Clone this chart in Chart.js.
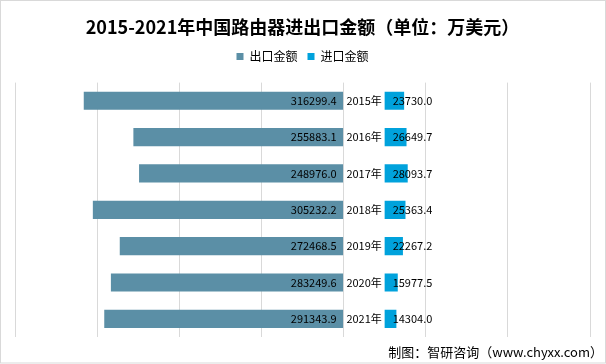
<!DOCTYPE html>
<html>
<head>
<meta charset="utf-8">
<script src="https://cdn.jsdelivr.net/npm/chart.js@4"></script>
<style>
  html, body { margin: 0; padding: 0; background: #fff; }
  #wrap { width: 606px; height: 364px; position: relative; }
</style>
</head>
<body>
<div id="wrap"><canvas id="tradeChart"></canvas></div>
<script>
const years = ['2015年', '2016年', '2017年', '2018年', '2019年', '2020年', '2021年'];
const exportData = [316299.4, 255883.1, 248976.0, 305232.2, 272468.5, 283249.6, 291343.9]; // 出口金额
const importData = [23730.0, 26649.7, 28093.7, 25363.4, 22267.2, 15977.5, 14304.0]; // 进口金额

const GAP = 50000; // room for the year labels between the two sides
const FONT = "'Noto Sans CJK SC', 'Noto Sans', sans-serif";

// push the plot area down a bit below the legend
const legendSpace = {
    id: 'legendSpace',
    beforeInit(chart) {
        const origFit = chart.legend.fit;
        chart.legend.fit = function () {
            origFit.call(this);
            this.height += 10;
        };
    }
};

const labelPlugin = {
    id: 'labels',
    afterDatasetsDraw(chart) {
        const ctx = chart.ctx;
        const x = chart.scales.x;
        const zero = x.getPixelForValue(0);
        const gapPx = x.getPixelForValue(GAP);
        const bars = chart.getDatasetMeta(0).data;
        ctx.save();
        ctx.font = '11px ' + FONT;
        ctx.fillStyle = '#000';
        ctx.textBaseline = 'middle';
        bars.forEach((bar, i) => {
            const y = bar.y;
            ctx.textAlign = 'right';
            ctx.fillText(exportData[i].toFixed(1), zero - 7, y);
            ctx.textAlign = 'center';
            ctx.fillText(years[i], (zero + gapPx) / 2, y);
            ctx.textAlign = 'left';
            ctx.fillText(importData[i].toFixed(1), gapPx + 8, y);
        });
        ctx.restore();
    },
    afterDraw(chart) {
        const ctx = chart.ctx;
        ctx.save();
        ctx.font = '13px ' + FONT;
        ctx.fillStyle = '#000';
        ctx.textAlign = 'right';
        ctx.textBaseline = 'middle';
        ctx.fillText('制图：智研咨询（www.chyxx.com）', 603, 352);
        ctx.strokeStyle = '#d9d9d9';
        ctx.lineWidth = 1;
        ctx.strokeRect(0.5, 0.5, 605, 362.5);
        ctx.restore();
    }
};

const ctxTrade = document.getElementById('tradeChart').getContext('2d');
const tradeChart = new Chart(ctxTrade, {
    type: 'bar',
    data: {
        labels: years,
        datasets: [{
            label: '出口金额',
            data: exportData.map(v => [-v, 0]),
            backgroundColor: '#5b8fa6',
            grouped: false,
        }, {
            label: '进口金额',
            data: importData.map(v => [GAP, GAP + v]),
            backgroundColor: '#00a2dc',
            grouped: false,
        }]
    },
    options: {
        indexAxis: 'y',
        responsive: true,
        maintainAspectRatio: false,
        animation: false,
        categoryPercentage: 0.5,
        barPercentage: 1,
        layout: {
            padding: { left: 15, right: 16, top: 0, bottom: 27 }
        },
        plugins: {
            title: {
                display: true,
                text: '2015-2021年中国路由器进出口金额（单位：万美元）',
                color: '#000',
                font: { family: FONT, size: 18, weight: 'bold' },
                padding: { top: 16, bottom: 3 }
            },
            legend: {
                display: true,
                labels: {
                    color: '#000',
                    boxWidth: 7,
                    boxHeight: 7,
                    font: { family: FONT, size: 12 },
                    padding: 10
                }
            },
            tooltip: { enabled: false }
        },
        scales: {
            x: {
                min: -400000,
                max: 300000,
                ticks: { display: false, stepSize: 100000 },
                grid: { color: '#d9d9d9', drawTicks: false },
                border: { display: false }
            },
            y: {
                display: false
            }
        }
    },
    plugins: [legendSpace, labelPlugin]
});
</script>
</body>
</html>
